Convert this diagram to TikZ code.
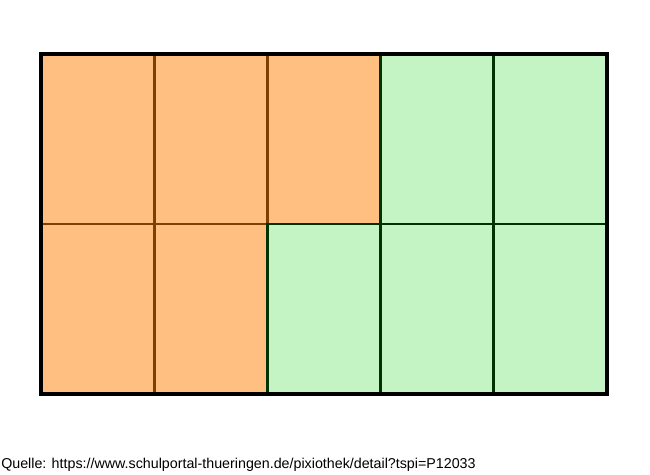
\documentclass[tikz,border=0pt]{standalone}
\usepackage{fontspec}
\setmainfont{Liberation Sans}
\usetikzlibrary{positioning}
\definecolor{orangefill}{HTML}{FFBF80}
\definecolor{orangeline}{HTML}{7F3F00}
\definecolor{greenfill}{HTML}{C4F4C4}
\definecolor{greenline}{HTML}{003300}
\tikzset{
    x=0.75pt, y=-0.75pt,
    orangecell/.style={
        fill=orangefill,
        draw=orangeline,
        line width=2.1pt
    },
    greencell/.style={
        fill=greenfill,
        draw=greenline,
        line width=2.1pt
    },
    frame/.style={
        draw=black,
        line width=3pt
    }
}
\begin{document}
\begin{tikzpicture}
    \useasboundingbox (0,0) rectangle (650,475);
    % cells: column, row, style
    \foreach \c/\r/\s in {0/0/orangecell, 1/0/orangecell, 2/0/orangecell,
                          3/0/greencell, 4/0/greencell,
                          0/1/orangecell, 1/1/orangecell,
                          2/1/greencell, 3/1/greencell, 4/1/greencell}
        \draw[\s] ({42+\c*112.8},{55+\r*169}) rectangle ++(112.8,169);
    \draw[frame] (41,54) rectangle (607,394);

    \node[anchor=base west, inner sep=0pt, font=\fontsize{10.7}{12}\selectfont] (quelle) at (1,468)
        {Quelle: https://www.schulportal-thueringen.de/pixiothek/detail?tspi=P12033};
\end{tikzpicture}
\end{document}
